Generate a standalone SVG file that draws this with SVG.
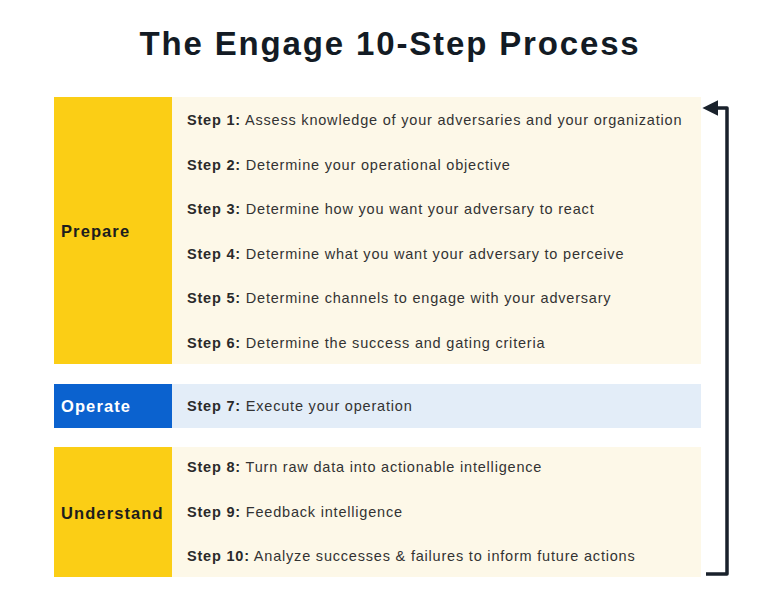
<svg xmlns="http://www.w3.org/2000/svg" width="768" height="600" viewBox="0 0 768 600">
<defs>
<style>
.title{font-family:"Liberation Sans",Arial,sans-serif;font-weight:bold;font-size:33px;letter-spacing:1.85px;fill:#131b24}
.lab{font-family:"Liberation Sans",Arial,sans-serif;font-weight:bold;font-size:16.5px;letter-spacing:1.1px;fill:#1d1d1d}
.step{font-family:"Liberation Sans",Arial,sans-serif;font-size:14.5px;letter-spacing:0.8px;fill:#333}
.step tspan.b{font-weight:bold;fill:#2a2a2a}
.yel{fill:#fbce15}
.cream{fill:#fdf8e8}
.blue{fill:#0b62cf}
.lblue{fill:#e3edf8}
.conn{fill:none;stroke:#19212b;stroke-width:3.5;stroke-linejoin:round}
</style>
<marker id="ah" viewBox="0 0 10 10" refX="2" refY="5" markerWidth="4.5" markerHeight="4.5" orient="auto-start-reverse" markerUnits="strokeWidth">
<path d="M0,0 L10,5 L0,10 z" fill="#19212b"/>
</marker>
</defs>
<rect width="768" height="600" fill="#fff"/>
<text class="title" x="390" y="55" text-anchor="middle">The Engage 10-Step Process</text>

<g id="prepare">
<rect class="yel" x="54" y="97" width="118" height="267"/>
<rect class="cream" x="172" y="97" width="529" height="267"/>
<text class="lab" x="61" y="237">Prepare</text>
<text class="step" x="187" y="125"><tspan class="b">Step 1:</tspan> Assess knowledge of your adversaries and your organization</text>
<text class="step" x="187" y="170"><tspan class="b">Step 2:</tspan> Determine your operational objective</text>
<text class="step" x="187" y="214"><tspan class="b">Step 3:</tspan> Determine how you want your adversary to react</text>
<text class="step" x="187" y="259"><tspan class="b">Step 4:</tspan> Determine what you want your adversary to perceive</text>
<text class="step" x="187" y="303"><tspan class="b">Step 5:</tspan> Determine channels to engage with your adversary</text>
<text class="step" x="187" y="348"><tspan class="b">Step 6:</tspan> Determine the success and gating criteria</text>
</g>

<g id="operate">
<rect class="blue" x="54" y="384" width="118" height="44"/>
<rect class="lblue" x="172" y="384" width="529" height="44"/>
<text class="lab" x="61" y="412" style="fill:#fff">Operate</text>
<text class="step" x="187" y="411"><tspan class="b">Step 7:</tspan> Execute your operation</text>
</g>

<g id="understand">
<rect class="yel" x="54" y="447" width="118" height="130"/>
<rect class="cream" x="172" y="447" width="529" height="130"/>
<text class="lab" x="61" y="519">Understand</text>
<text class="step" x="187" y="472"><tspan class="b">Step 8:</tspan> Turn raw data into actionable intelligence</text>
<text class="step" x="187" y="517"><tspan class="b">Step 9:</tspan> Feedback intelligence</text>
<text class="step" x="187" y="561"><tspan class="b">Step 10:</tspan> Analyze successes &amp; failures to inform future actions</text>
</g>

<g id="connectors">
<path class="conn" d="M706,574 L727,574 L727,108 L715,108" marker-end="url(#ah)"/>
</g>
</svg>
